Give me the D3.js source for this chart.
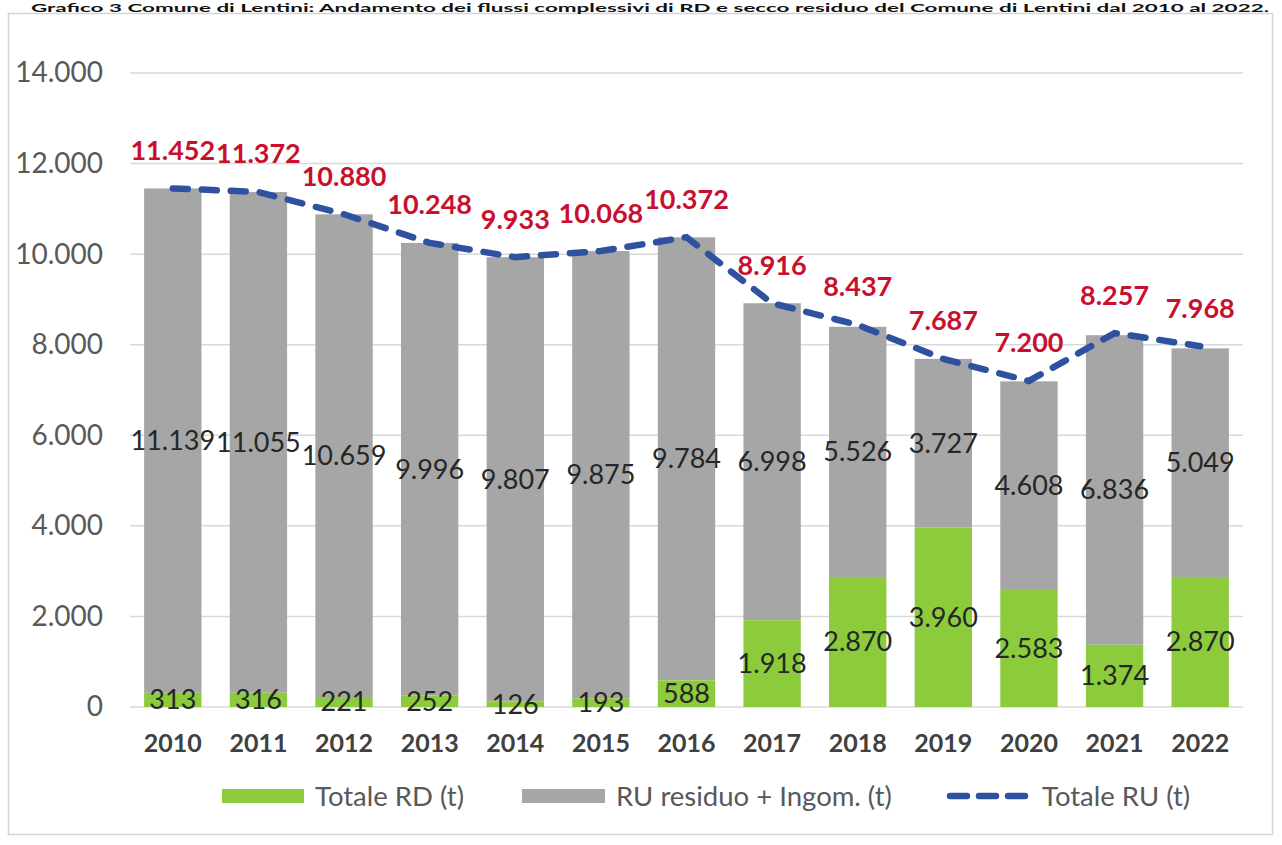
<!DOCTYPE html>
<html>
<head>
<meta charset="utf-8">
<script src="https://cdn.jsdelivr.net/npm/d3@7"></script>
<style>
  html, body { margin: 0; padding: 0; background: #ffffff; }
  svg { display: block; }
  text { font-family: Lato, "Open Sans", sans-serif; }
</style>
</head>
<body>
<svg id="chart" width="1282" height="845"></svg>
<script>
// Raccolta rifiuti, Comune di Lentini, 2010-2022 (tonnellate)
const years = ["2010","2011","2012","2013","2014","2015","2016","2017","2018","2019","2020","2021","2022"];
const totaleRD = [313, 316, 221, 252, 126, 193, 588, 1918, 2870, 3960, 2583, 1374, 2870];
const ruResiduo = [11139, 11055, 10659, 9996, 9807, 9875, 9784, 6998, 5526, 3727, 4608, 6836, 5049];
const totaleRU = [11452, 11372, 10880, 10248, 9933, 10068, 10372, 8916, 8437, 7687, 7200, 8257, 7968];
const yTicks = [0, 2000, 4000, 6000, 8000, 10000, 12000, 14000];
const seriesNames = ["Totale RD (t)", "RU residuo + Ingom. (t)", "Totale RU (t)"];
const titleText = "Grafico 3 Comune di Lentini: Andamento dei flussi complessivi di RD e secco residuo del Comune di Lentini dal 2010 al 2022.";

const COL_RD = "#8ccc3c";
const COL_RU = "#a6a6a6";
const COL_LINE = "#2f52a0";
const COL_TOT = "#c8102e";

const it = d3.formatLocale({ decimal: ",", thousands: ".", grouping: [3], currency: ["€", ""] });
const fmt = it.format(",d");

const svg = d3.select("#chart");

// Cornice dell'area grafico
svg.append("rect")
  .attr("x", 8.5).attr("y", 13.5).attr("width", 1264).attr("height", 821)
  .attr("fill", "#fff").attr("stroke", "#d4d4d4").attr("stroke-width", 1.5);

// Titolo sopra la cornice
svg.append("text")
  .attr("x", 650).attr("y", 11.5)
  .attr("text-anchor", "middle")
  .attr("font-size", 12).attr("font-weight", "bold")
  .attr("fill", "#111")
  .attr("textLength", 1238).attr("lengthAdjust", "spacingAndGlyphs")
  .text(titleText);

const x = d3.scaleBand().domain(years).range([130, 1243]).paddingInner(0.33).paddingOuter(0.165);
const y = d3.scaleLinear().domain([0, 14000]).range([707, 73]);

// Griglia orizzontale
svg.append("g")
  .selectAll("line").data(yTicks).join("line")
  .attr("x1", 130).attr("x2", 1243)
  .attr("y1", d => y(d)).attr("y2", d => y(d))
  .attr("stroke", "#d9d9d9").attr("stroke-width", 1.5);

// Asse Y
const yAxis = svg.append("g")
  .attr("transform", "translate(103,0)")
  .call(d3.axisLeft(y).tickValues(yTicks).tickFormat(fmt).tickSize(0).tickPadding(0));
yAxis.select(".domain").remove();
yAxis.selectAll("text")
  .attr("font-size", 28).attr("fill", "#595959")
  .attr("font-family", "Lato, sans-serif");

// Asse X
const xAxis = svg.append("g")
  .attr("transform", "translate(0,707)")
  .call(d3.axisBottom(x).tickSize(0).tickPadding(27));
xAxis.select(".domain").remove();
xAxis.selectAll("text")
  .attr("font-size", 25).attr("font-weight", "bold").attr("fill", "#404040")
  .attr("font-family", "Lato, sans-serif");

// Barre impilate
const rows = years.map((yr, i) => ({ yr, rd: totaleRD[i], ru: ruResiduo[i], tot: totaleRU[i] }));

svg.append("g").selectAll("rect").data(rows).join("rect")
  .attr("x", d => x(d.yr)).attr("width", x.bandwidth())
  .attr("y", d => y(d.rd + d.ru))
  .attr("height", d => y(d.rd) - y(d.rd + d.ru))
  .attr("fill", COL_RU);

svg.append("g").selectAll("rect").data(rows).join("rect")
  .attr("x", d => x(d.yr)).attr("width", x.bandwidth())
  .attr("y", d => y(d.rd))
  .attr("height", d => y(0) - y(d.rd))
  .attr("fill", COL_RD);

// Linea del totale
const line = d3.line()
  .x(d => x(d.yr) + x.bandwidth() / 2)
  .y(d => y(d.tot));

svg.append("path")
  .datum(rows)
  .attr("d", line)
  .attr("fill", "none")
  .attr("stroke", COL_LINE)
  .attr("stroke-width", 6.5)
  .attr("stroke-linecap", "round")
  .attr("stroke-dasharray", "15,14");

// Etichette valori
const cx = d => x(d.yr) + x.bandwidth() / 2;

svg.append("g").selectAll("text").data(rows).join("text")
  .attr("x", cx)
  .attr("y", d => (y(d.rd) + y(d.rd + d.ru)) / 2)
  .attr("dy", "0.35em")
  .attr("text-anchor", "middle")
  .attr("font-size", 27).attr("fill", "#262626")
  .text(d => fmt(d.ru));

svg.append("g").selectAll("text").data(rows).join("text")
  .attr("x", cx)
  .attr("y", d => (y(0) + y(d.rd)) / 2)
  .attr("dy", "0.35em")
  .attr("text-anchor", "middle")
  .attr("font-size", 27).attr("fill", "#262626")
  .text(d => fmt(d.rd));

svg.append("g").selectAll("text").data(rows).join("text")
  .attr("x", cx)
  .attr("y", d => y(d.tot) - 38)
  .attr("dy", "0.35em")
  .attr("text-anchor", "middle")
  .attr("font-size", 27).attr("font-weight", "bold").attr("fill", COL_TOT)
  .text(d => fmt(d.tot));

// Legenda
const lg = svg.append("g").attr("font-size", 27.5).attr("fill", "#595959");
const ly = 796;
lg.append("rect").attr("x", 222).attr("y", ly - 7).attr("width", 82).attr("height", 14).attr("fill", COL_RD);
lg.append("text").attr("x", 315).attr("y", ly).attr("dy", "0.35em").text(seriesNames[0]);
lg.append("rect").attr("x", 522).attr("y", ly - 7).attr("width", 83).attr("height", 14).attr("fill", COL_RU);
lg.append("text").attr("x", 616).attr("y", ly).attr("dy", "0.35em").text(seriesNames[1]);
lg.append("line")
  .attr("x1", 950).attr("x2", 1028).attr("y1", ly).attr("y2", ly)
  .attr("stroke", COL_LINE).attr("stroke-width", 6.5)
  .attr("stroke-linecap", "round").attr("stroke-dasharray", "17,12");
lg.append("text").attr("x", 1042).attr("y", ly).attr("dy", "0.35em").text(seriesNames[2]);
</script>
</body>
</html>
